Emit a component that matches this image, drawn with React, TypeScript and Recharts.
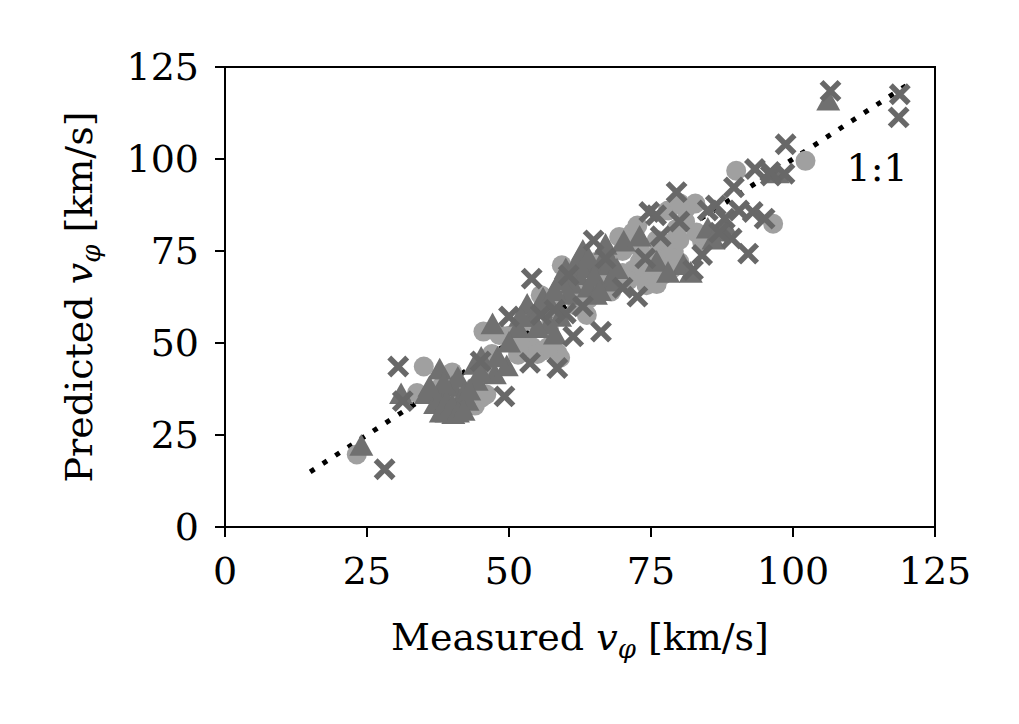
import { ScatterChart, Scatter, XAxis, YAxis, ReferenceLine, ReferenceArea, ReferenceDot } from 'recharts';

// values, one array per marker group
const circlePts: [number, number][] = [
  [23.2, 19.7], [33.8, 36.4], [35, 43.6], [38, 38], [41, 36.9], [43, 35], [45.1, 35.1], [44, 38],
  [45.5, 53.1], [48.3, 52.2], [47, 47], [51.6, 46.8], [54, 49], [58.5, 47.3], [56, 48], [55.6, 63],
  [53, 56], [57, 58], [59.3, 71.1], [60, 66], [62, 60], [63.7, 57.6], [65.3, 72], [68.6, 69.3],
  [67, 74], [69.4, 78.8], [71.8, 80], [72.6, 81.9], [70, 69], [73, 72], [74.2, 65.7], [77, 68.4],
  [76, 74], [78.7, 70.2], [78, 77], [79.5, 81], [80, 72], [81.1, 86.5], [82.8, 87.9], [84, 77.5],
  [90, 96.8], [96.5, 82.4], [102.2, 99.5], [64, 62], [66, 66],
  [74, 68], [75, 70], [76, 66], [77, 72], [79, 75], [80, 78], [81, 83], [83, 80], [85, 79],
  [76, 78], [73, 76], [72, 70], [71, 67], [62, 64], [58, 62], [57, 54], [55, 47], [59, 46],
  [57, 49], [46, 42], [42, 32], [44, 33], [46, 36], [40, 42], [50, 52], [52, 50], [66, 70],
  [68, 64], [70, 75], [78, 86], [80, 88],
];

const trianglePts: [number, number][] = [
  [24, 22], [31, 36], [35.4, 36], [37, 33.3], [37.8, 42.7], [38, 35], [39, 31], [39.4, 32.4],
  [40.2, 30.6], [40, 38], [41, 40.5], [41.5, 33], [42, 36], [42.7, 34.2], [44.3, 39.6], [45.1, 45.9],
  [47.5, 41.4], [47.1, 55], [49.6, 43.6], [51.6, 54], [53.2, 60.3], [54, 57], [55.6, 59.4], [57, 61],
  [58.1, 52.2], [59, 57], [60.5, 63], [61, 66], [62.1, 68.4], [63.7, 70.2], [64, 65], [65.3, 63],
  [66, 71], [67, 76.6], [67.8, 66.6], [70.2, 77.5], [73, 78.8], [80.7, 71.1], [82, 69], [87.2, 80.2],
  [88, 82], [97.3, 96], [106.2, 115.8],
  [38, 31], [39, 34], [40, 33], [41, 31], [42, 31.5], [38.5, 39], [36, 38], [43, 37], [45, 42],
  [48, 46], [50, 50], [52, 57], [56, 62], [58, 64], [59, 67], [60, 70], [62, 72], [63, 75],
  [64, 73], [65, 68], [66, 64], [68, 72], [69, 70], [76, 72], [78, 69], [85, 81], [86, 78],
  [57, 55], [55, 54], [44, 44],
];

const crossPts: [number, number][] = [
  [28.1, 15.7], [30.5, 43.6], [31.3, 34.2], [49.2, 35.5], [50, 57.2], [53.7, 44.6], [54, 67.5],
  [55.6, 57.6], [58.5, 43.2], [60.5, 68.4], [61.3, 51.8], [64.9, 77.9], [66.2, 53.1], [67, 73],
  [72.6, 62.6], [74.7, 85.6], [75.9, 84.7], [76.7, 79], [79.5, 91], [82.4, 69.8], [84, 73.9],
  [86.4, 87.4], [88, 83.8], [89.2, 78.4], [89.6, 92.3], [90.5, 86], [92.1, 74.3], [92.9, 85.6],
  [93.3, 97.3], [95, 83.8], [96.1, 95.5], [98.5, 96], [98.7, 104], [106.6, 118.5], [118.8, 117.6],
  [118.6, 111.3], [63, 60], [70, 65],
  [45, 45], [60, 58], [74, 73], [87, 80], [96, 96.5], [85, 86], [80, 83], [58, 59],
];

const ticks = [0, 25, 50, 75, 100, 125];
const oneToOne = [15, 120];

const FONT = '"DejaVu Serif", serif';
const FS = 38;

const toRows = (pts: [number, number][]) => pts.map(([x, y]) => ({ x, y }));

const Circle = (p: any) => <circle cx={p.cx} cy={p.cy} r={10} fill="#a0a0a0" />;
const Tri = (p: any) => {
  const s = 12;
  return <path d={`M${p.cx},${p.cy - s} L${p.cx + s},${p.cy + s * 0.8} L${p.cx - s},${p.cy + s * 0.8} Z`} fill="#707070" />;
};
const Cross = (p: any) => {
  const s = 9;
  return (
    <path
      d={`M${p.cx - s},${p.cy - s} L${p.cx + s},${p.cy + s} M${p.cx - s},${p.cy + s} L${p.cx + s},${p.cy - s}`}
      stroke="#686868" strokeWidth={5.5}
    />
  );
};

const XLabel = ({ viewBox }: any) => (
  <text x={viewBox.x + viewBox.width / 2} y={650} textAnchor="middle" fontFamily={FONT} fontSize={FS} fill="#000">
    <tspan>Measured </tspan>
    <tspan fontStyle="italic">v</tspan>
    <tspan fontStyle="italic" fontSize={26} dy={8}>φ</tspan>
    <tspan dy={-8}> [km/s]</tspan>
  </text>
);

const YLabel = () => (
  <text x={0} y={0} transform="translate(92,297) rotate(-90)" textAnchor="middle" fontFamily={FONT} fontSize={FS} fill="#000">
    <tspan>Predicted </tspan>
    <tspan fontStyle="italic">v</tspan>
    <tspan fontStyle="italic" fontSize={26} dy={8}>φ</tspan>
    <tspan dy={-8}> [km/s]</tspan>
  </text>
);

export default function App() {
  const tick = { fill: '#000', fontFamily: FONT, fontSize: FS };
  return (
    <div style={{ position: 'absolute', left: 0, top: 0, background: '#fff' }}>
      <ScatterChart width={1019} height={724} margin={{ top: 67, right: 84, bottom: 137, left: 125 }}>
        <XAxis
          type="number" dataKey="x" domain={[0, 125]} ticks={ticks} height={60}
          axisLine={{ stroke: '#000', strokeWidth: 2 }} tickLine={{ stroke: '#000', strokeWidth: 2 }}
          tickSize={10} tickMargin={20} tick={tick} label={<XLabel />}
        />
        <YAxis
          type="number" dataKey="y" domain={[0, 125]} ticks={ticks} width={100}
          axisLine={{ stroke: '#000', strokeWidth: 2 }} tickLine={{ stroke: '#000', strokeWidth: 2 }}
          tickSize={10} tickMargin={16} tick={tick} label={<YLabel />}
        />
        <ReferenceArea x1={0} x2={125} y1={0} y2={125} fill="none" stroke="#000" strokeWidth={2} />
        <Scatter data={toRows(circlePts)} shape={<Circle />} isAnimationActive={false} />
        <Scatter data={toRows(trianglePts)} shape={<Tri />} isAnimationActive={false} />
        <Scatter data={toRows(crossPts)} shape={<Cross />} isAnimationActive={false} />
        <ReferenceLine
          segment={[{ x: oneToOne[0], y: oneToOne[0] }, { x: oneToOne[1], y: oneToOne[1] }]}
          stroke="#000" strokeWidth={5} strokeDasharray="5 10"
        />
        <ReferenceDot
          x={114.8} y={97.8} r={0} fill="none" stroke="none"
          label={{ value: '1:1', position: 'center', fontFamily: FONT, fontSize: FS, fill: '#000' }}
        />
      </ScatterChart>
    </div>
  );
}
